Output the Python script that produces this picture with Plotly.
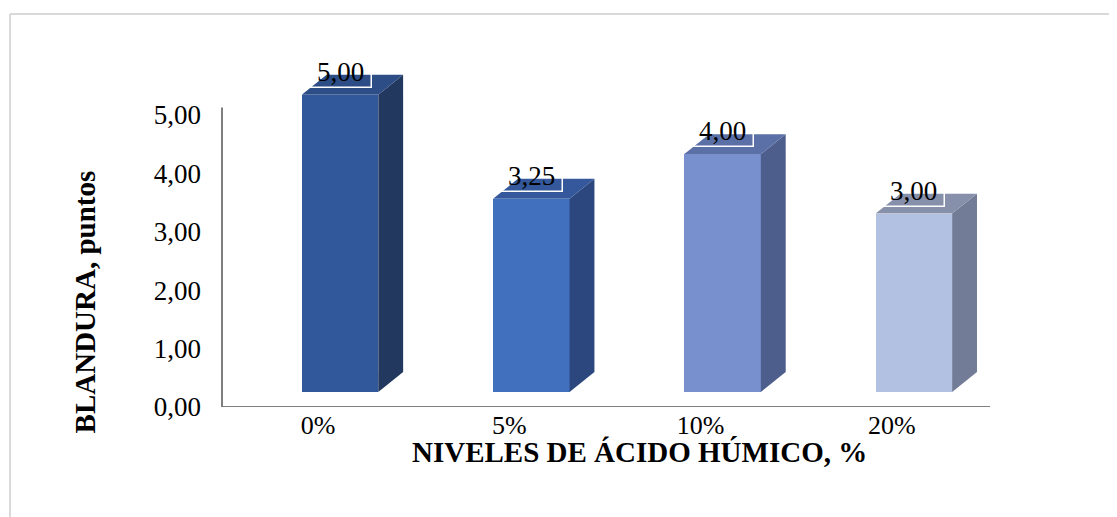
import plotly.graph_objects as go

# data
niveles = ["0%", "5%", "10%", "20%"]
blandura = [5.00, 3.25, 4.00, 3.00]
etiquetas = ["5,00", "3,25", "4,00", "3,00"]
y_ticks = [0, 1, 2, 3, 4, 5]
y_ticktext = ["0,00", "1,00", "2,00", "3,00", "4,00", "5,00"]

# bar colours (front, side, top) for the fake 3D look
front_col = ["#31589A", "#4070BE", "#7891CE", "#B2C0E1"]
side_col = ["#22385F", "#2B477D", "#4D5D8C", "#727C97"]
top_col = ["#2C4D86", "#34589B", "#5C70A8", "#8790AA"]

FONT = "Liberation Serif"
shift = 0.115   # perspective offset of the bars from the tick
w = 0.40        # front face width
dx, dy = 0.13, 0.34   # depth of the box
base = 0.257
k = 1.017

fig = go.Figure()

# axis titles first
fig.add_annotation(
    text="<b>NIVELES DE ÁCIDO HÚMICO, %</b>", xref="paper", yref="paper",
    x=0.544, y=-0.131, showarrow=False, xanchor="center", yanchor="middle",
    font=dict(family=FONT, size=29, color="black"))
fig.add_annotation(
    text="<b>BLANDURA, puntos</b>", xref="paper", yref="paper",
    x=-0.178, y=0.304, showarrow=False, textangle=-90,
    xanchor="center", yanchor="middle",
    font=dict(family=FONT, size=29, color="black"))

xs = [i + shift for i in range(len(niveles))]

# front faces
fig.add_trace(go.Bar(
    x=xs, y=[v * k for v in blandura], base=base, width=w,
    marker=dict(color=front_col, line=dict(width=0)),
    hoverinfo="skip", showlegend=False,
))

# side and top faces
for i, v in enumerate(blandura):
    xl = xs[i] - w / 2
    xr = xs[i] + w / 2
    t = base + v * k
    fig.add_trace(go.Scatter(
        x=[xr, xr + dx, xr + dx, xr, xr],
        y=[base, base + dy, t + dy, t, base],
        fill="toself", fillcolor=side_col[i], mode="lines",
        line=dict(width=0, color=side_col[i]),
        hoverinfo="skip", showlegend=False,
    ))
    fig.add_trace(go.Scatter(
        x=[xl, xl + dx, xr + dx, xr, xl],
        y=[t, t + dy, t + dy, t, t],
        fill="toself", fillcolor=top_col[i], mode="lines",
        line=dict(width=0, color=top_col[i]),
        hoverinfo="skip", showlegend=False,
    ))
    # value label with a white frame
    fig.add_annotation(
        x=xs[i], y=t, xref="x", yref="y",
        text=etiquetas[i], showarrow=False,
        yanchor="bottom", yshift=7, width=60, borderpad=0,
        bordercolor="white", borderwidth=1.5,
        font=dict(family=FONT, size=27, color="black"),
    )

# the page body adds 8px, so the figure is 8px smaller
fig.update_layout(
    width=1109, height=509,
    margin=dict(l=214, r=127, t=54, b=110),
    paper_bgcolor="white", plot_bgcolor="white",
    bargap=0,
    xaxis=dict(
        range=[-0.502, 3.513], tickvals=list(range(len(niveles))),
        ticktext=niveles, showgrid=False, zeroline=False, showline=False,
        ticks="", ticklabelstandoff=0,
        tickfont=dict(family=FONT, size=26, color="black"),
    ),
    yaxis=dict(
        range=[0, 5.9], tickvals=y_ticks, ticktext=y_ticktext,
        showgrid=False, zeroline=False, showline=False,
        ticks="", ticklabelstandoff=20,
        tickfont=dict(family=FONT, size=27, color="black"),
    ),
    shapes=[
        # axis lines
        dict(type="line", xref="paper", yref="y", x0=0, x1=0, y0=0, y1=5.12,
             line=dict(color="#7F7F7F", width=2)),
        dict(type="line", xref="paper", yref="y", x0=0, x1=1, y0=0, y1=0,
             line=dict(color="#7F7F7F", width=2)),
        # light chart border (top and left)
        dict(type="line", xref="paper", yref="paper", x0=-0.276, x1=1.17,
             y0=1.139, y1=1.139, line=dict(color="#D9D9D9", width=2)),
        dict(type="line", xref="paper", yref="paper", x0=-0.276, x1=-0.276,
             y0=1.139, y1=-0.35, line=dict(color="#D9D9D9", width=2)),
    ],
)

fig.write_html("out.html")
